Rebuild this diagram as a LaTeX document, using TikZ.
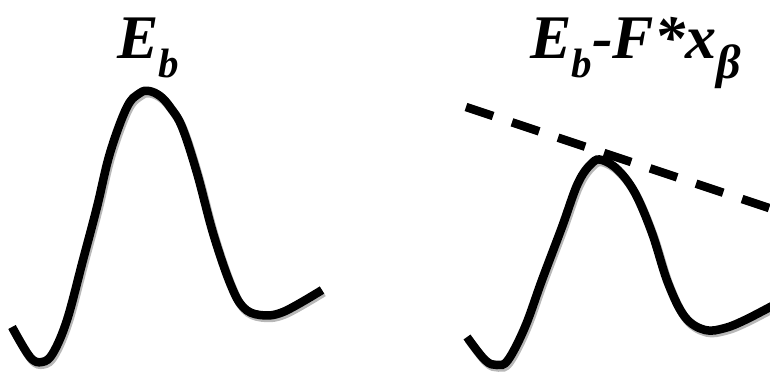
\documentclass[tikz,border=0pt]{standalone}
\usepackage{fontspec}
\setmainfont{Liberation Serif}
\definecolor{ShadowClr}{gray}{0.72}

\tikzset{
  well/.style={line width=8.5pt,color=black},
  wellshadow/.style={line width=8.5pt,color=ShadowClr,shift={(1.5,2.5)}},
  tilt/.style={line width=8.5pt,dash pattern=on 28.5pt off 20pt},
  barrier/.style={font=\bfseries\itshape\fontsize{62}{66}\selectfont,inner sep=0pt,anchor=base west}
}
\newcommand{\subtxt}[3]{\raisebox{#1}{\fontsize{#2}{44}\selectfont #3}}

\begin{document}
\begin{tikzpicture}[x=1pt,y=-1pt]
\useasboundingbox (0,0) rectangle (770,372);

% free energy, no force
\def\plainwell{plot[smooth,tension=0.6] coordinates {(12,327) (30,357) (42,362) (53,353)
  (67,320) (83,260) (97,207) (110,153) (127,107) (140,93) (149,91) (160,96) (170,107)
  (182,127) (197,173) (213,233) (230,283) (243,307) (260,315) (283,312) (322,290)}}
% free energy, tilted by the force
\def\tiltwell{plot[smooth,tension=0.6] coordinates {(467,337) (485,360) (497,365) (508,360)
  (525,327) (542,280) (562,227) (578,183) (592,163) (602,160) (618,170) (635,193)
  (652,233) (668,283) (685,317) (705,330) (725,328) (745,320) (772,306)}}

\coordinate (T1) at (466,107);
\coordinate (T2) at (772,209);

\draw[wellshadow] \plainwell;
\draw[wellshadow] \tiltwell;
\draw[wellshadow,tilt] (T1) -- (T2);

\draw[well] \plainwell;
\draw[well] \tiltwell;
\draw[well,tilt] (T1) -- (T2);

\node[barrier] (Eb) at (117,58) {E\subtxt{-19pt}{41}{b}};
\node[barrier] (EbF) at (530,58) {E\subtxt{-19pt}{41}{b}-F*x\subtxt{-20pt}{48}{β}};

\end{tikzpicture}
\end{document}
